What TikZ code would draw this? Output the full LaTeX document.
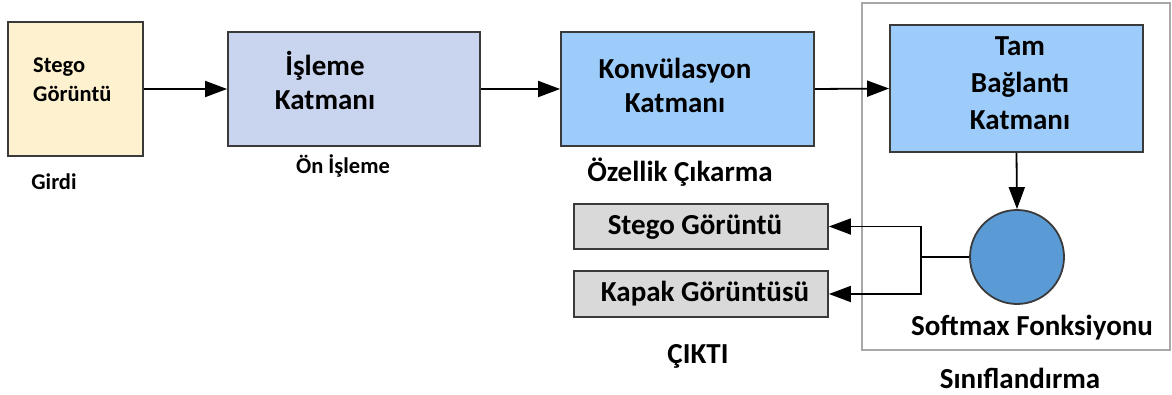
\documentclass[tikz,border=0pt]{standalone}
\usepackage{fontspec}
\setmainfont{Carlito}
\usetikzlibrary{arrows.meta}

\definecolor{inputfill}{HTML}{FDF1CF}
\definecolor{prepfill}{HTML}{C9D4EE}
\definecolor{layerfill}{HTML}{9DCBFA}
\definecolor{softfill}{HTML}{5B9BD5}
\definecolor{outfill}{HTML}{D9D9D9}
\definecolor{edgegray}{HTML}{3A3A3A}
\definecolor{framegray}{HTML}{A8A8A8}

\begin{document}
\begin{tikzpicture}[x=1pt, y=-1pt,
    box/.style={draw=edgegray, line width=1.8pt, inner sep=0pt},
    txt/.style={font=\bfseries\fontsize{29}{34}\selectfont, inner sep=0pt, align=center},
    small/.style={font=\bfseries\fontsize{22.5}{29}\selectfont},
    arr/.style={line width=1.8pt, -{Triangle[length=22pt, width=16pt]}}]
    \useasboundingbox (0,0) rectangle (1172,394);

    % classification frame
    \draw [framegray, line width=1.4pt] (862,3) rectangle (1170,350);

    % boxes
    \node [box, fill=inputfill, minimum width=135pt, minimum height=134pt] (inp) at (75.5,89) {};
    \node [box, fill=prepfill, minimum width=252pt, minimum height=114pt] (prep) at (354,89) {};
    \node [box, fill=layerfill, minimum width=253pt, minimum height=114pt] (conv) at (687.5,89) {};
    \node [box, fill=layerfill, minimum width=253pt, minimum height=127pt] (fc) at (1016.5,88.5) {};
    \node [box, fill=softfill, circle, minimum size=94pt] (soft) at (1017,257) {};
    \node [box, fill=outfill, minimum width=254pt, minimum height=45pt] (out1) at (701,226.5) {};
    \node [box, fill=outfill, minimum width=254pt, minimum height=46pt] (out2) at (701,294) {};

    % texts in the boxes
    \node [txt, small, anchor=west, align=left] (inpT) at (33,80) {Stego\\Görüntü};
    \node [txt] (prepT) at (325,80) {İşleme\\Katmanı};
    \node [txt] (convT) at (675,85) {Konvülasyon\\Katmanı};
    \node [txt, font=\bfseries\fontsize{29}{37}\selectfont] (fcT) at (1020,83) {Tam\\Bağlantı\\Katmanı};
    \node [txt] (out1T) at (695,227) {Stego Görüntü};
    \node [txt] (out2T) at (705,294) {Kapak Görüntüsü};

    % captions
    \node [txt, small] (girdi) at (54,182) {Girdi};
    \node [txt, small] (onisl) at (343,166) {Ön İşleme};
    \node [txt] (ozel) at (680,172) {Özellik Çıkarma};
    \node [txt] (softT) at (1032,328) {Softmax Fonksiyonu};
    \node [txt] (sinif) at (1020,378) {Sınıflandırma};
    \node [txt] (cikti) at (698,356) {ÇIKTI};

    % connectors
    \coordinate (split) at (921,257);
    \draw [arr] (inp.east) -- (prep.west);
    \draw [arr] (prep.east) -- (conv.west);
    \draw [arr] (conv.east) -- (fc.west);
    \draw [arr] (fc.south) -- (soft.north);
    \draw [line width=1.8pt] (soft.west) -- (split);
    \draw [arr] (split) |- (out1.east);
    \draw [arr] (split) |- (out2.east);
\end{tikzpicture}
\end{document}
